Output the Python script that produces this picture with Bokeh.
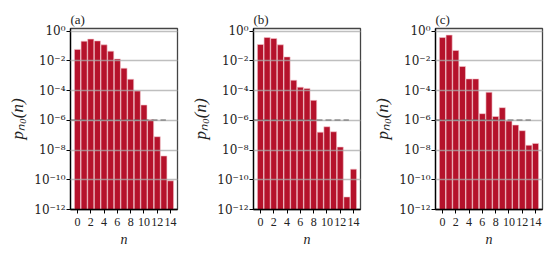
from bokeh.plotting import figure
from bokeh.layouts import row
from bokeh.models import FixedTicker, Range1d
from bokeh.embed import file_html
from bokeh.resources import INLINE

n_values = list(range(15))
p_a = [0.059, 0.21, 0.29, 0.22, 0.12, 0.045, 0.0135, 3.2e-3, 5.8e-4, 9.5e-5,
       1.07e-5, 1.1e-6, 7.9e-8, 4e-9, 8.5e-11]
p_b = [0.126, 0.37, 0.32, 0.12, 0.0185, 5e-4, 1.7e-4, 1.4e-4, 2.2e-5, 1.6e-7,
       3.7e-7, 1.7e-7, 1.6e-8, 7e-12, 5.2e-10]
p_c = [0.37, 0.54, 0.05, 4.2e-3, 6.1e-4, 6.1e-4, 2.8e-6, 7.7e-5, 1.8e-6, 7.1e-6,
       9e-7, 4.8e-7, 2e-7, 2.1e-8, 2.8e-8]
panel_titles = ["(a)", "(b)", "(c)"]
threshold = 1e-6
threshold_x = [-1.05, 13.3]
x_ticks = [0, 2, 4, 6, 8, 10, 12, 14]
y_ticks = [1e-12, 1e-10, 1e-8, 1e-6, 1e-4, 1e-2, 1e0]
y_tick_labels = ["10⁻¹²", "10⁻¹⁰", "10⁻⁸", "10⁻⁶", "10⁻⁴", "10⁻²", "10⁰"]
y_label = "pₙ₀(n)"
x_label = "n"

FONT = "Liberation Serif"
BAR = "#b5122b"

def make_panel(vals, title, left_border, right_border):
    p = figure(frame_width=107, frame_height=181, y_axis_type="log",
               x_range=Range1d(-1.05, 15.05), y_range=Range1d(1e-12, 1.5),
               output_backend="svg", toolbar_location=None,
               min_border_left=left_border, min_border_right=right_border,
               min_border_top=28, min_border_bottom=4)
    p.title.text = title
    p.title.text_font = FONT
    p.title.text_font_size = "13px"
    p.title.text_font_style = "normal"
    p.title.text_color = "#222222"
    p.title.standoff = 4
    p.vbar(x=n_values, top=vals, bottom=1e-12, width=0.92,
           fill_color=BAR, line_color="#f3c6cd", line_width=0.6)
    p.line(threshold_x, [threshold, threshold], line_color="#555555",
           line_width=1.6, line_dash="6 3")
    p.xgrid.visible = False
    p.ygrid.ticker = FixedTicker(ticks=y_ticks)
    p.ygrid.grid_line_color = "#aaaaaa"
    p.ygrid.grid_line_alpha = 0.75
    p.ygrid.grid_line_width = 1.3
    p.ygrid.level = "overlay"
    p.xaxis.ticker = FixedTicker(ticks=x_ticks)
    p.yaxis.ticker = FixedTicker(ticks=y_ticks, minor_ticks=[])
    p.yaxis.major_label_overrides = {t: lab for t, lab in zip(y_ticks, y_tick_labels)}
    for ax in (p.xaxis, p.yaxis):
        ax.major_label_text_font = FONT
        ax.major_label_text_font_size = "12px"
        ax.major_label_text_color = "#222222"
        ax.axis_label_text_font = FONT
        ax.axis_label_text_font_size = "14px"
        ax.axis_label_text_font_style = "italic"
        ax.axis_label_text_color = "#222222"
        ax.axis_line_color = "black"
        ax.axis_line_width = 1.3
        ax.major_tick_line_color = "black"
        ax.major_tick_out = 4
        ax.major_tick_in = 0
        ax.minor_tick_line_color = None
    p.yaxis.major_label_text_font = "DejaVu Serif"
    p.yaxis.major_label_text_font_size = "12px"
    p.yaxis.axis_label_text_font_size = "17px"
    p.xaxis.axis_label = x_label
    p.yaxis.axis_label = y_label
    p.xaxis.major_label_standoff = 4
    p.xaxis.axis_label_standoff = 3
    p.yaxis.major_label_standoff = 1
    p.yaxis.axis_label_standoff = 4
    p.outline_line_color = "#444444"
    p.outline_line_width = 1.3
    return p

pa = make_panel(p_a, panel_titles[0], 70, 11)
pb = make_panel(p_b, panel_titles[1], 64, 10)
pc = make_panel(p_c, panel_titles[2], 64, 10)
layout = row(pa, pb, pc)
open("out.html", "w").write(file_html(layout, INLINE))
